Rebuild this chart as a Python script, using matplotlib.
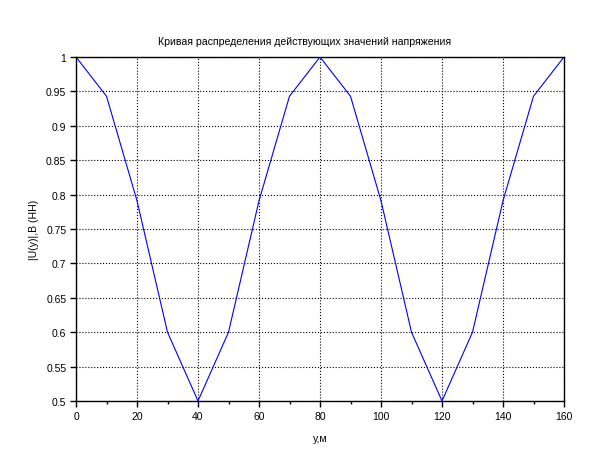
import matplotlib
matplotlib.use('Agg')
import matplotlib.pyplot as plt
from matplotlib.ticker import MultipleLocator

# distance along the line, m
y_m = [0, 10, 20, 30, 40, 50, 60, 70, 80, 90, 100, 110, 120, 130, 140, 150, 160]
# |U(y)|, per unit
u_abs = [1.0, 0.943, 0.791, 0.600, 0.5, 0.600, 0.791, 0.943, 1.0,
         0.943, 0.791, 0.600, 0.5, 0.600, 0.791, 0.943, 1.0]

plt.rcParams['font.family'] = ['Liberation Sans', 'DejaVu Sans']

fig = plt.figure(figsize=(6.1, 4.6), dpi=100)
ax = fig.add_axes([76/610, 1-402/460, 488/610, 344/460])

ax.plot(y_m, u_abs, color='#0000ff', lw=0.8)
ax.set_xlim(0, 160)
ax.set_ylim(0.5, 1.0)
ax.xaxis.set_major_locator(MultipleLocator(20))
ax.xaxis.set_minor_locator(MultipleLocator(10))
ax.yaxis.set_major_locator(MultipleLocator(0.05))
ax.yaxis.set_major_formatter(plt.FuncFormatter(lambda v, p: ('%.2f' % v).rstrip('0').rstrip('.')))
ax.grid(True, which='major', color='k', linestyle=':', lw=0.8)
ax.tick_params(labelsize=7.5, length=4, width=1, direction='out', pad=3)
ax.tick_params(which='minor', length=2.5, width=1)
for s in ax.spines.values():
    s.set_linewidth(1)

fig.text(305/610, 1-42/460, 'Кривая распределения действующих значений напряжения',
         fontsize=7.6, ha='center', va='center')
ax.set_xlabel('y,м', fontsize=7.6, labelpad=9)
ax.set_ylabel('|U(y)|,В (НН)', fontsize=7.6, labelpad=5)

fig.savefig('out.png', dpi=100)
